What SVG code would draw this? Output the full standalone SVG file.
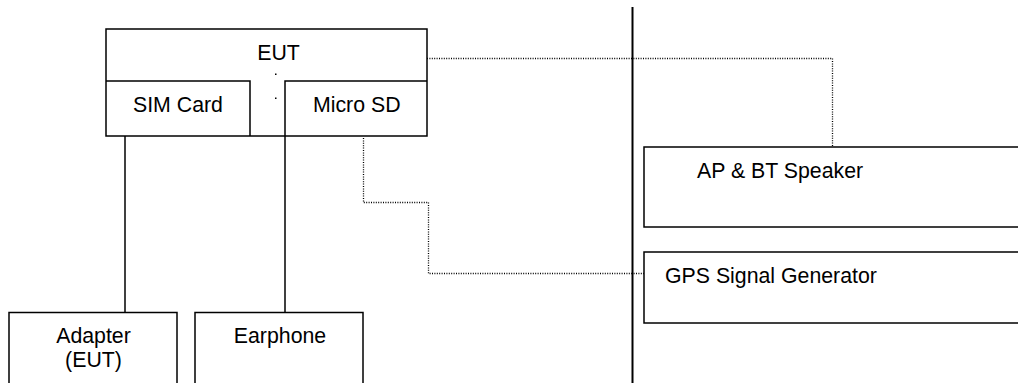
<svg xmlns="http://www.w3.org/2000/svg" width="1018" height="383" viewBox="0 0 1018 383">
<style>
.box{fill:none;stroke:#000;stroke-width:1.5}
.solid{fill:none;stroke:#000;stroke-width:1.5}
.dot{fill:none;stroke:#000;stroke-width:1.3;stroke-dasharray:1 1.4}
.lbl{font-family:"Liberation Sans",Arial,sans-serif;font-size:21.3px;fill:#000}
</style>
<rect width="1018" height="383" fill="#fff"/>
<g id="divider">
<line x1="632.5" y1="7" x2="632.5" y2="383" stroke="#000" stroke-width="2"/>
</g>
<g id="connectors">
<line class="solid" x1="125" y1="136" x2="125" y2="312"/>
<line class="solid" x1="285" y1="136" x2="285" y2="312"/>
<path class="dot" d="M363.5,138 V202.5 H428.5 V273.5 H644"/>
<path class="dot" d="M427,58.5 H832.5 V147"/>
</g>
<g id="eut">
<rect class="box" x="106" y="29" width="321" height="107"/>
<text class="lbl" x="278.5" y="59.5" text-anchor="middle">EUT</text>
<rect x="275" y="73.5" width="1.5" height="1.5" fill="#000"/>
<rect x="275" y="97.5" width="1.5" height="1.5" fill="#000"/>
</g>
<g id="sim-card">
<path class="box" d="M106,81 H250 V136"/>
<text class="lbl" x="133" y="112">SIM Card</text>
</g>
<g id="micro-sd">
<path class="box" d="M427,81 H285 V136"/>
<text class="lbl" x="313" y="112">Micro SD</text>
</g>
<g id="adapter">
<rect class="box" x="9" y="312.5" width="168" height="100"/>
<text class="lbl" x="93.5" y="343" text-anchor="middle">Adapter</text>
<text class="lbl" x="93.5" y="366.5" text-anchor="middle">(EUT)</text>
</g>
<g id="earphone">
<rect class="box" x="195" y="312.5" width="168" height="100"/>
<text class="lbl" x="280" y="343" text-anchor="middle">Earphone</text>
</g>
<g id="ap-bt-speaker">
<rect class="box" x="644" y="147" width="400" height="80"/>
<text class="lbl" x="697" y="177.5">AP &amp; BT Speaker</text>
</g>
<g id="gps-signal-generator">
<rect class="box" x="644" y="252" width="400" height="71"/>
<text class="lbl" x="665" y="283">GPS Signal Generator</text>
</g>
</svg>
